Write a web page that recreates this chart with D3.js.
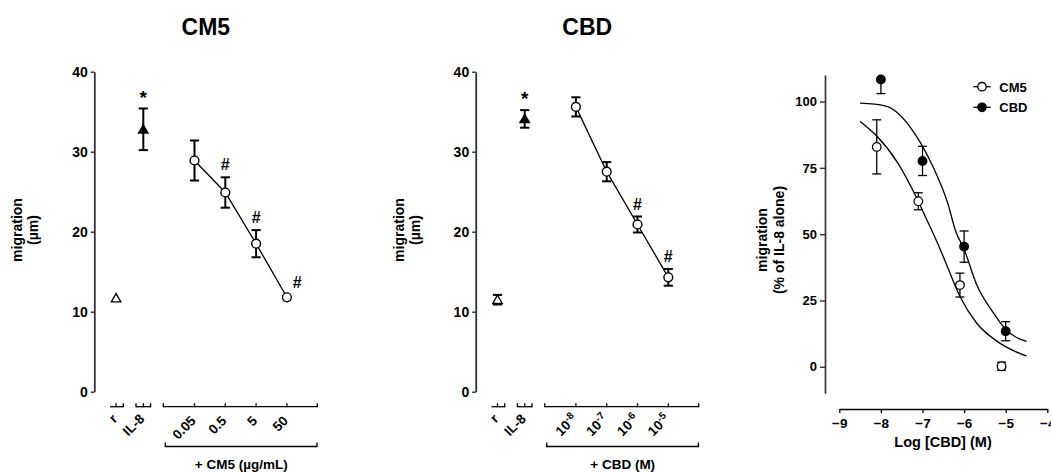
<!DOCTYPE html>
<html lang="en">
<head>
    <meta charset="UTF-8">
    <title>CM5 and CBD inhibit IL-8 induced migration</title>
    <script src="https://d3js.org/d3.v7.js"></script>
    <style>
        body { margin: 0; background: #fff; }
        svg text { font-family: "Liberation Sans", Arial, Helvetica, sans-serif; font-weight: bold; fill: #000; }
    </style>
</head>
<body>
    <svg></svg>
    <script>
        // ---- data ----
        const controlLabels = ["r", "IL-8"];

        // panel A: CM5 (µg/mL)
        const cm5Doses = ["0.05", "0.5", "5", "50"];
        const cm5ControlMean = [11.7, 32.8];
        const cm5ControlErr = [0, 2.6];
        const cm5Mean = [28.9, 24.9, 18.5, 11.8];
        const cm5Err = [2.5, 1.9, 1.7, 0];

        // panel B: CBD (M), exponents of 10
        const cbdDoses = ["-8", "-7", "-6", "-5"];
        const cbdControlMean = [11.5, 34.1];
        const cbdControlErr = [0.6, 1.1];
        const cbdMean = [35.6, 27.5, 20.9, 14.3];
        const cbdErr = [1.2, 1.2, 1.0, 1.05];

        const migTicks = [0, 10, 20, 30, 40];

        // panel C: % of IL-8 alone vs log[CBD]
        const pctTicks = [0, 25, 50, 75, 100];
        const logTicks = [-9, -8, -7, -6, -5, -4];
        const cm5LogX = [-8.1, -7.1, -6.1, -5.1];
        const cm5Pct = [82.9, 62.4, 30.8, 0.2];
        const cm5PctErr = [10.2, 3.2, 4.5, 1.5];
        const cbdLogX = [-8, -7, -6, -5];
        const cbdPct = [108.3, 77.6, 45.3, 13.4];
        const cbdPctErr = [5.3, 5.5, 5.9, 3.6];
        // fitted curves, points
        const cm5FitX = [-8.5, -8.1, -7.6, -7.15, -6.9, -6.75, -6.5, -6.1, -5.7, -5.15, -4.5];
        const cm5FitY = [92.5, 87, 77, 64, 55.5, 50.5, 41.5, 26.5, 16.5, 9, 4];
        const cbdFitX = [-8.5, -7.9, -7.05, -6.75, -6.4, -6.2, -6.0, -5.7, -5.3, -5.0, -4.5];
        const cbdFitY = [99.4, 98.4, 84.5, 75.5, 62, 51, 44.3, 31, 20.4, 14.1, 9.6];

        const width = 1051, height = 472;
        const svg = d3.select("svg").attr("width", width).attr("height", height);

        const yMig = d3.scaleLinear().domain([0, 40]).range([391.7, 71.7]);
        const axisY = 406.7;

        function errBar(g, x, y0, y1, half, sw) {
            g.append("line").attr("x1", x).attr("x2", x).attr("y1", y0).attr("y2", y1)
                .attr("stroke", "#000").attr("stroke-width", sw);
            [y0, y1].forEach(y => g.append("line").attr("x1", x - half).attr("x2", x + half)
                .attr("y1", y).attr("y2", y).attr("stroke", "#000").attr("stroke-width", sw));
        }

        const triangle = d3.symbol().type(d3.symbolTriangle).size(40);

        function dosePanel(x0, title, doses, ctrlMean, ctrlErr, mean, err, marks, groupLabel, superscript) {
            const g = svg.append("g");
            const ctrlX = d3.scalePoint().domain(controlLabels).range([x0 + 21.8, x0 + 49]);
            const doseX = d3.scalePoint().domain(doses).range([x0 + 100.2, x0 + 192.6]);

            g.append("text").attr("x", x0 + 111.5).attr("y", 35).attr("text-anchor", "middle")
                .style("font-size", "23px").text(title);

            // y axis
            const ya = g.append("g").attr("transform", `translate(${x0},0)`)
                .call(d3.axisLeft(yMig).tickValues(migTicks).tickSize(3.5).tickSizeOuter(0).tickPadding(3));
            ya.select(".domain").attr("stroke", "#333").attr("stroke-width", 1.8);
            ya.selectAll(".tick line").attr("stroke", "#333").attr("stroke-width", 1.5);
            ya.selectAll(".tick text").style("font-size", "14px").style("font-family", null);

            const yl = g.append("text").attr("transform", `translate(${x0 - 72},${230}) rotate(-90)`)
                .attr("text-anchor", "middle").style("font-size", "14px");
            yl.append("tspan").attr("x", 0).attr("y", 0).text("migration");
            yl.append("tspan").attr("x", 0).attr("y", 16).text("(µm)");

            // segmented bottom axis
            const seg = (a, b, ticks, startTick) => {
                g.append("line").attr("x1", x0 + a).attr("x2", x0 + b).attr("y1", axisY).attr("y2", axisY)
                    .attr("stroke", "#000").attr("stroke-width", 1.3);
                const tx = ticks.slice();
                tx.push(x0 + b);
                if (startTick) tx.push(x0 + a);
                tx.forEach(x => g.append("line").attr("x1", x).attr("x2", x)
                    .attr("y1", axisY - 3.5).attr("y2", axisY + 0.6).attr("stroke", "#000").attr("stroke-width", 1.3));
            };
            seg(15.7, 29, [ctrlX("r")], false);
            seg(41.7, 56.3, [ctrlX("IL-8"), x0 + 41.7], false);
            seg(69, 223, doses.map(d => doseX(d)), true);

            // group bracket
            const by = 446.5;
            g.append("path").attr("d", `M${x0 + 71},${by - 4}V${by}H${x0 + 222.7}V${by - 4}`)
                .attr("fill", "none").attr("stroke", "#000").attr("stroke-width", 1.3);
            g.append("text").attr("x", x0 + 147).attr("y", 469).attr("text-anchor", "middle")
                .style("font-size", "13.5px").text(groupLabel);

            // rotated tick labels
            const rot = (x, label, sup, dy) => {
                const t = g.append("text").attr("transform", `translate(${x + 2},${axisY + dy}) rotate(-45)`)
                    .attr("text-anchor", "end").style("font-size", "13.5px");
                if (sup) {
                    t.append("tspan").text("10");
                    t.append("tspan").attr("dy", -5).style("font-size", "10px").text(label);
                } else t.text(label);
            };
            controlLabels.forEach(c => rot(ctrlX(c), c, false, 13));
            doses.forEach(d => rot(doseX(d), d, superscript, superscript ? 13 : 15));

            // error bars
            controlLabels.forEach((c, i) => {
                if (ctrlErr[i] > 0) errBar(g, ctrlX(c), yMig(ctrlMean[i] - ctrlErr[i]), yMig(ctrlMean[i] + ctrlErr[i]), 4.6, 2);
            });
            doses.forEach((d, i) => {
                if (err[i] > 0) errBar(g, doseX(d), yMig(mean[i] - err[i]), yMig(mean[i] + err[i]), 4.6, 2);
            });

            // connecting line
            g.append("path").datum(doses)
                .attr("d", d3.line().x(d => doseX(d)).y((d, i) => yMig(mean[i])))
                .attr("fill", "none").attr("stroke", "#000").attr("stroke-width", 1.3);

            // control triangles
            controlLabels.forEach((c, i) => {
                g.append("path").attr("d", triangle)
                    .attr("transform", `translate(${ctrlX(c)},${yMig(ctrlMean[i]) + 1})`)
                    .attr("fill", i === 0 ? "#fff" : "#000").attr("stroke", "#000").attr("stroke-width", 1.3);
            });
            // dose circles
            doses.forEach((d, i) => {
                g.append("circle").attr("cx", doseX(d)).attr("cy", yMig(mean[i])).attr("r", 4.4)
                    .attr("fill", "#fff").attr("stroke", "#000").attr("stroke-width", 1.4);
            });

            // significance marks
            marks.forEach(m => {
                const isCtrl = controlLabels.includes(m.at);
                const i = isCtrl ? controlLabels.indexOf(m.at) : doses.indexOf(m.at);
                const x = isCtrl ? ctrlX(m.at) : doseX(m.at);
                const top = isCtrl ? ctrlMean[i] + ctrlErr[i] : mean[i] + err[i];
                const dx = m.dx || 0;
                const dy = m.sym === "*" ? -5 : (m.dy || -7);
                g.append("text").attr("x", x + dx).attr("y", yMig(top) + dy).attr("text-anchor", "middle")
                    .style("font-size", m.sym === "*" ? "19px" : "16px").text(m.sym);
            });
        }

        dosePanel(94.3, "CM5", cm5Doses, cm5ControlMean, cm5ControlErr, cm5Mean, cm5Err,
            [{at: "IL-8", sym: "*"}, {at: "0.5", sym: "#"}, {at: "5", sym: "#"}, {at: "50", sym: "#", dx: 10.4, dy: -9.5}],
            "+ CM5 (µg/mL)", false);
        dosePanel(475.7, "CBD", cbdDoses, cbdControlMean, cbdControlErr, cbdMean, cbdErr,
            [{at: "IL-8", sym: "*"}, {at: "-6", sym: "#"}, {at: "-5", sym: "#"}],
            "+ CBD (M)", true);

        // ---- panel C ----
        const g3 = svg.append("g");
        const xLog = d3.scaleLinear().domain([-9, -4]).range([839.3, 1047.3]);
        const yPct = d3.scaleLinear().domain([-10, 110]).range([393.3, 75]);

        const ya3 = g3.append("g").attr("transform", "translate(825,0)")
            .call(d3.axisLeft(yPct).tickValues(pctTicks).tickSize(5).tickSizeOuter(0).tickPadding(3));
        ya3.select(".domain").attr("stroke", "#333").attr("stroke-width", 1.7);
        ya3.selectAll(".tick line").attr("stroke", "#333").attr("stroke-width", 1.4);
        ya3.selectAll(".tick text").style("font-size", "13px").style("font-family", null);

        const xa3 = g3.append("g").attr("transform", "translate(0,409)")
            .call(d3.axisBottom(xLog).tickValues(logTicks).tickSize(4).tickSizeOuter(0).tickPadding(5)
                .tickFormat(d3.format("d")));
        xa3.select(".domain").attr("stroke", "#000").attr("stroke-width", 1.3);
        xa3.selectAll(".tick line").attr("stroke", "#000").attr("stroke-width", 1.3);
        xa3.selectAll(".tick text").style("font-size", "13.5px").style("font-family", null);

        g3.append("text").attr("x", 943).attr("y", 447).attr("text-anchor", "middle")
            .style("font-size", "14.5px").text("Log [CBD] (M)");
        const yl3 = g3.append("text").attr("transform", "translate(767,240) rotate(-90)")
            .attr("text-anchor", "middle").style("font-size", "14px");
        yl3.append("tspan").attr("x", 0).attr("y", 0).text("migration");
        yl3.append("tspan").attr("x", 0).attr("y", 17).text("(% of IL-8 alone)");

        const fitLine = d3.line().curve(d3.curveMonotoneX);
        g3.append("path").attr("d", fitLine(cm5FitX.map((x, i) => [xLog(x), yPct(cm5FitY[i])])))
            .attr("fill", "none").attr("stroke", "#000").attr("stroke-width", 1.3);
        g3.append("path").attr("d", fitLine(cbdFitX.map((x, i) => [xLog(x), yPct(cbdFitY[i])])))
            .attr("fill", "none").attr("stroke", "#000").attr("stroke-width", 1.3);

        const pctSeries = [
            {xs: cm5LogX, ys: cm5Pct, es: cm5PctErr, fill: "#fff"},
            {xs: cbdLogX, ys: cbdPct, es: cbdPctErr, fill: "#000"}
        ];
        pctSeries.forEach(s => {
            s.xs.forEach((x, i) => {
                const hi = Math.min(s.ys[i] + s.es[i], 110);
                const lo = s.ys[i] - s.es[i];
                const px = xLog(x);
                g3.append("line").attr("x1", px).attr("x2", px).attr("y1", yPct(lo)).attr("y2", yPct(hi))
                    .attr("stroke", "#000").attr("stroke-width", 1.3);
                g3.append("line").attr("x1", px - 4.5).attr("x2", px + 4.5).attr("y1", yPct(lo)).attr("y2", yPct(lo))
                    .attr("stroke", "#000").attr("stroke-width", 1.3);
                if (s.ys[i] + s.es[i] <= 110)
                    g3.append("line").attr("x1", px - 4.5).attr("x2", px + 4.5).attr("y1", yPct(hi)).attr("y2", yPct(hi))
                        .attr("stroke", "#000").attr("stroke-width", 1.3);
            });
        });
        pctSeries.forEach(s => {
            s.xs.forEach((x, i) => {
                g3.append("circle").attr("cx", xLog(x)).attr("cy", yPct(s.ys[i])).attr("r", 4.3)
                    .attr("fill", s.fill).attr("stroke", "#000").attr("stroke-width", 1.3);
            });
        });

        // legend
        [{name: "CM5", fill: "#fff", y: 86.7}, {name: "CBD", fill: "#000", y: 107.3}].forEach(l => {
            g3.append("line").attr("x1", 973.3).attr("x2", 990.7).attr("y1", l.y).attr("y2", l.y)
                .attr("stroke", "#000").attr("stroke-width", 1.3);
            g3.append("circle").attr("cx", 982).attr("cy", l.y).attr("r", 4.2)
                .attr("fill", l.fill).attr("stroke", "#000").attr("stroke-width", 1.3);
            g3.append("text").attr("x", 999.3).attr("y", l.y + 4.8).style("font-size", "13px").text(l.name);
        });
    </script>
</body>
</html>
